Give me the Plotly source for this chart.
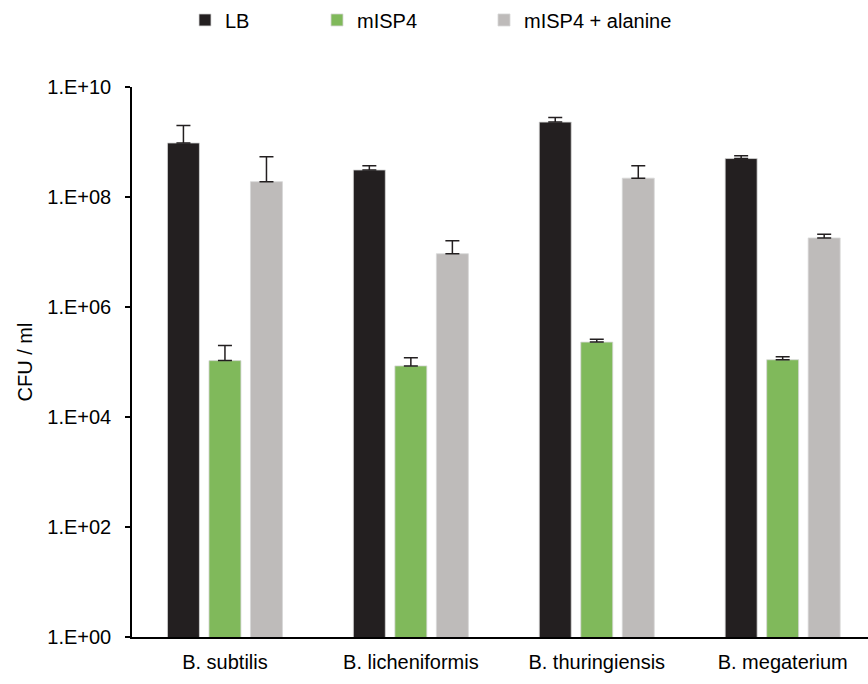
import plotly.graph_objects as go

categories = ["B. subtilis", "B. licheniformis", "B. thuringiensis", "B. megaterium"]
series_names = ["LB", "mISP4", "mISP4 + alanine"]
lb_values = [9.6e8, 3.1e8, 2.3e9, 5.0e8]
lb_err = [1.04e9, 6.0e7, 5.0e8, 6.0e7]
misp4_values = [1.06e5, 8.5e4, 2.3e5, 1.1e5]
misp4_err = [9.4e4, 3.5e4, 3.0e4, 1.5e4]
alanine_values = [1.9e8, 9.3e6, 2.2e8, 1.8e7]
alanine_err = [3.5e8, 6.7e6, 1.5e8, 3.0e6]
tick_vals = [1, 1e2, 1e4, 1e6, 1e8, 1e10]
tick_text = ["1.E+00", "1.E+02", "1.E+04", "1.E+06", "1.E+08", "1.E+10"]

colors = ["#231F20", "#80B95B", "#BEBBBA"]
FONT = "Liberation Sans"
FS = 20

fig = go.Figure()
all_vals = [lb_values, misp4_values, alanine_values]
all_errs = [lb_err, misp4_err, alanine_err]
legend_ids = ["legend", "legend2", "legend3"]
for name, vals, errs, col, lg in zip(series_names, all_vals, all_errs, colors, legend_ids):
    fig.add_trace(go.Bar(
        x=categories, y=vals, name=name, legend=lg, showlegend=True,
        marker=dict(color=col, line=dict(color="rgba(215,215,215,0.8)", width=1)),
        error_y=dict(type="data", array=errs, arrayminus=[0] * len(errs), symmetric=False,
                     color="#231F20", thickness=1.5, width=7),
    ))

L = 132
W = 868 - L
TOP = 87
H = 549.7

def px2paper(px):
    return (px - L) / W

legend_common = dict(orientation="h", yanchor="middle", y=1.0 + (TOP - 20) / H,
                     xanchor="left", font=dict(family=FONT, size=FS, color="#000"),
                     bgcolor="rgba(0,0,0,0)", itemwidth=30, tracegroupgap=0)
fig.update_layout(
    width=868, height=684,
    margin=dict(l=L, r=0, t=TOP, b=684 - TOP - H),
    paper_bgcolor="white", plot_bgcolor="white",
    showlegend=True,
    barmode="group", bargap=0.33, bargroupgap=0.23,
    font=dict(family=FONT, size=FS, color="#000"),
    legend=dict(x=px2paper(185), **legend_common),
    legend2=dict(x=px2paper(317), **legend_common),
    legend3=dict(x=px2paper(484), **legend_common),
    xaxis=dict(range=[-0.5, 3.459], showline=True, linecolor="#000", linewidth=1.5,
               ticks="", showgrid=False, tickfont=dict(family=FONT, size=FS, color="#000"),
               ticklabelstandoff=6),
    yaxis=dict(type="log", range=[0, 10], tickvals=tick_vals, ticktext=tick_text,
               showline=True, linecolor="#000", linewidth=1.5, ticks="outside", ticklen=5,
               tickwidth=1.5, tickcolor="#000", showgrid=False, zeroline=False,
               tickfont=dict(family=FONT, size=FS, color="#000"), ticklabelstandoff=10,
               title=dict(text="CFU / ml", font=dict(family=FONT, size=FS, color="#000"), standoff=9)),
)

fig.write_html("out.html", config={"displayModeBar": False},
               post_script="document.body.style.margin='0';document.body.style.overflow='hidden';")
